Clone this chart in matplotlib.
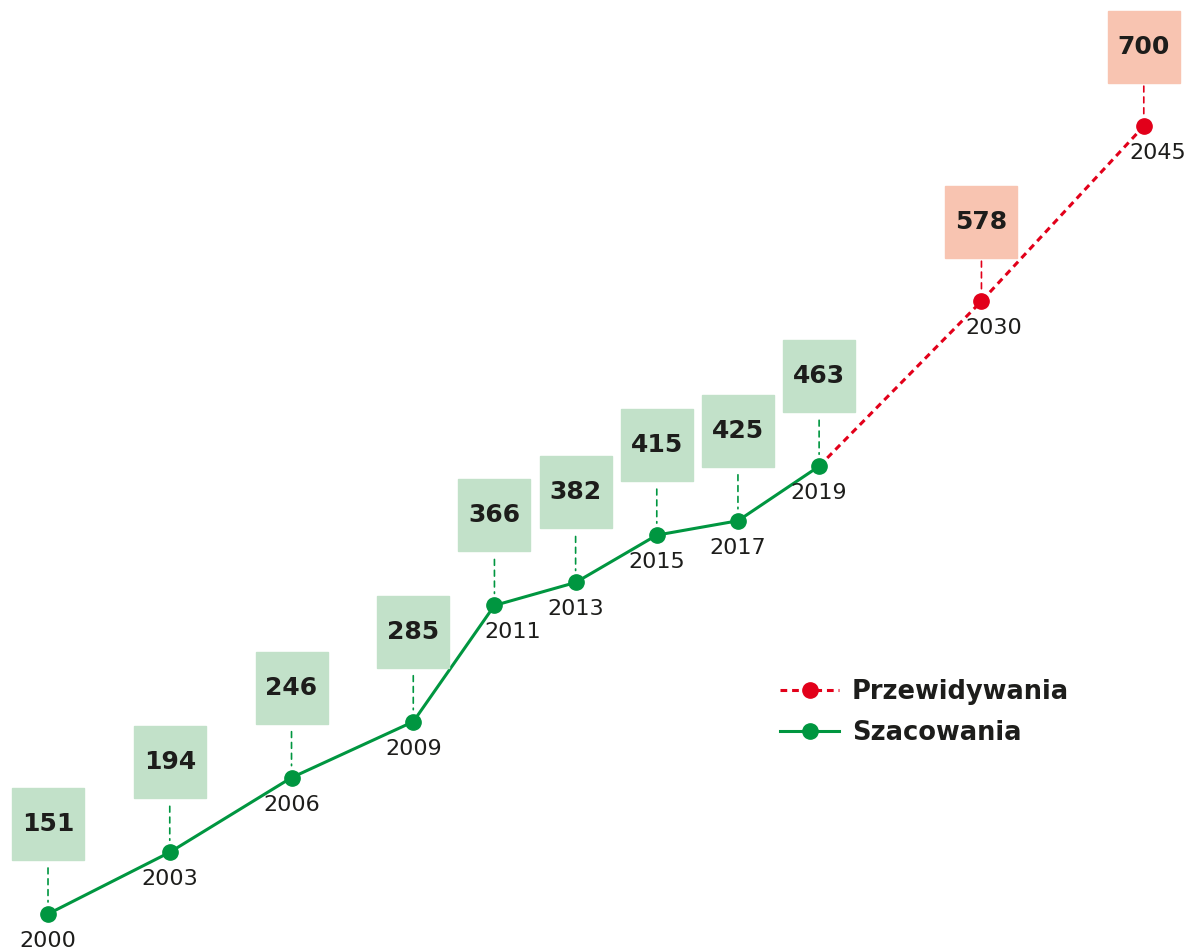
import matplotlib.pyplot as plt
from matplotlib.lines import Line2D
from matplotlib.transforms import offset_copy

plt.rcParams['font.family'] = ['DejaVu Sans']

# Szacowania (estimates)
years_est = ['2000', '2003', '2006', '2009', '2011', '2013', '2015', '2017', '2019']
vals_est = [151, 194, 246, 285, 366, 382, 415, 425, 463]
# Przewidywania (forecast)
years_fc = ['2030', '2045']
vals_fc = [578, 700]

# horizontal layout slots (the chart does not use a linear time axis)
slots_est = [0, 3, 6, 9, 11, 13, 15, 17, 19]
slots_fc = [23, 27]

green = '#009640'
green_box = '#c2e1c9'
red = '#e2001a'
red_box = '#f8c4b1'
txt = '#1d1d1b'

DPI = 100
fig = plt.figure(figsize=(11.86, 9.5), dpi=DPI)
ax = fig.add_axes([0, 0, 1, 1])
ax.set_xlim(-1.183, 28.04)
ax.set_ylim(125.9, 787.9)
ax.axis('off')

px = 72 / DPI  # points per pixel

# forecast line starts from the last estimate
ax.plot([slots_est[-1]] + slots_fc, [vals_est[-1]] + vals_fc, color=red, lw=2.2,
        linestyle=(0, (2.2, 1.6)), marker='o', markersize=11, markevery=[1, 2], zorder=2)
ax.plot(slots_est, vals_est, color=green, lw=2.2, marker='o', markersize=11, zorder=3)


def label(x, y, val, year, col, boxcol, box_off, dash, year_dx):
    # box with value above the point
    tr = offset_copy(ax.transData, fig=fig, x=0, y=box_off, units='dots')
    ax.plot([x], [y], marker='s', markersize=72 * px, color=boxcol, transform=tr,
            linestyle='none', zorder=4)
    ax.text(x, y, str(val), transform=tr, ha='center', va='center', fontsize=18,
            fontweight='bold', color=txt, zorder=5)
    ax.annotate('', xy=(x, y), xytext=(0, dash[1] * px), textcoords='offset points',
                arrowprops=dict(arrowstyle='-', color=col, lw=1.2, linestyle=(0, (3.5, 3)),
                                shrinkA=0, shrinkB=dash[0] * px))
    ax.annotate(year, xy=(x, y), xytext=(year_dx * px, -27 * px), textcoords='offset points',
                ha='center', va='center', fontsize=16, color=txt)


year_shift = {'2011': 18, '2030': 12, '2045': 14}
for x, v, yr in zip(slots_est, vals_est, years_est):
    label(x, v, v, yr, green, green_box, 90, (12, 46), year_shift.get(yr, 0))
for x, v, yr in zip(slots_fc, vals_fc, years_fc):
    label(x, v, v, yr, red, red_box, 79, (9, 40), year_shift.get(yr, 0))

handles = [
    Line2D([], [], color=red, lw=2.2, linestyle=(0, (2.2, 1.6)), marker='o', markersize=11),
    Line2D([], [], color=green, lw=2.2, marker='o', markersize=11),
]
leg = ax.legend(handles, ['Przewidywania', 'Szacowania'], loc='upper left',
                bbox_to_anchor=(780 / 1186, 1 - 679 / 950), bbox_transform=fig.transFigure,
                frameon=False, borderpad=0, borderaxespad=0, handlelength=2.3,
                handletextpad=0.5, labelspacing=0.58,
                prop={'size': 18.5, 'weight': 'bold'})
for t in leg.get_texts():
    t.set_color(txt)

fig.savefig('out.png', dpi=DPI)
